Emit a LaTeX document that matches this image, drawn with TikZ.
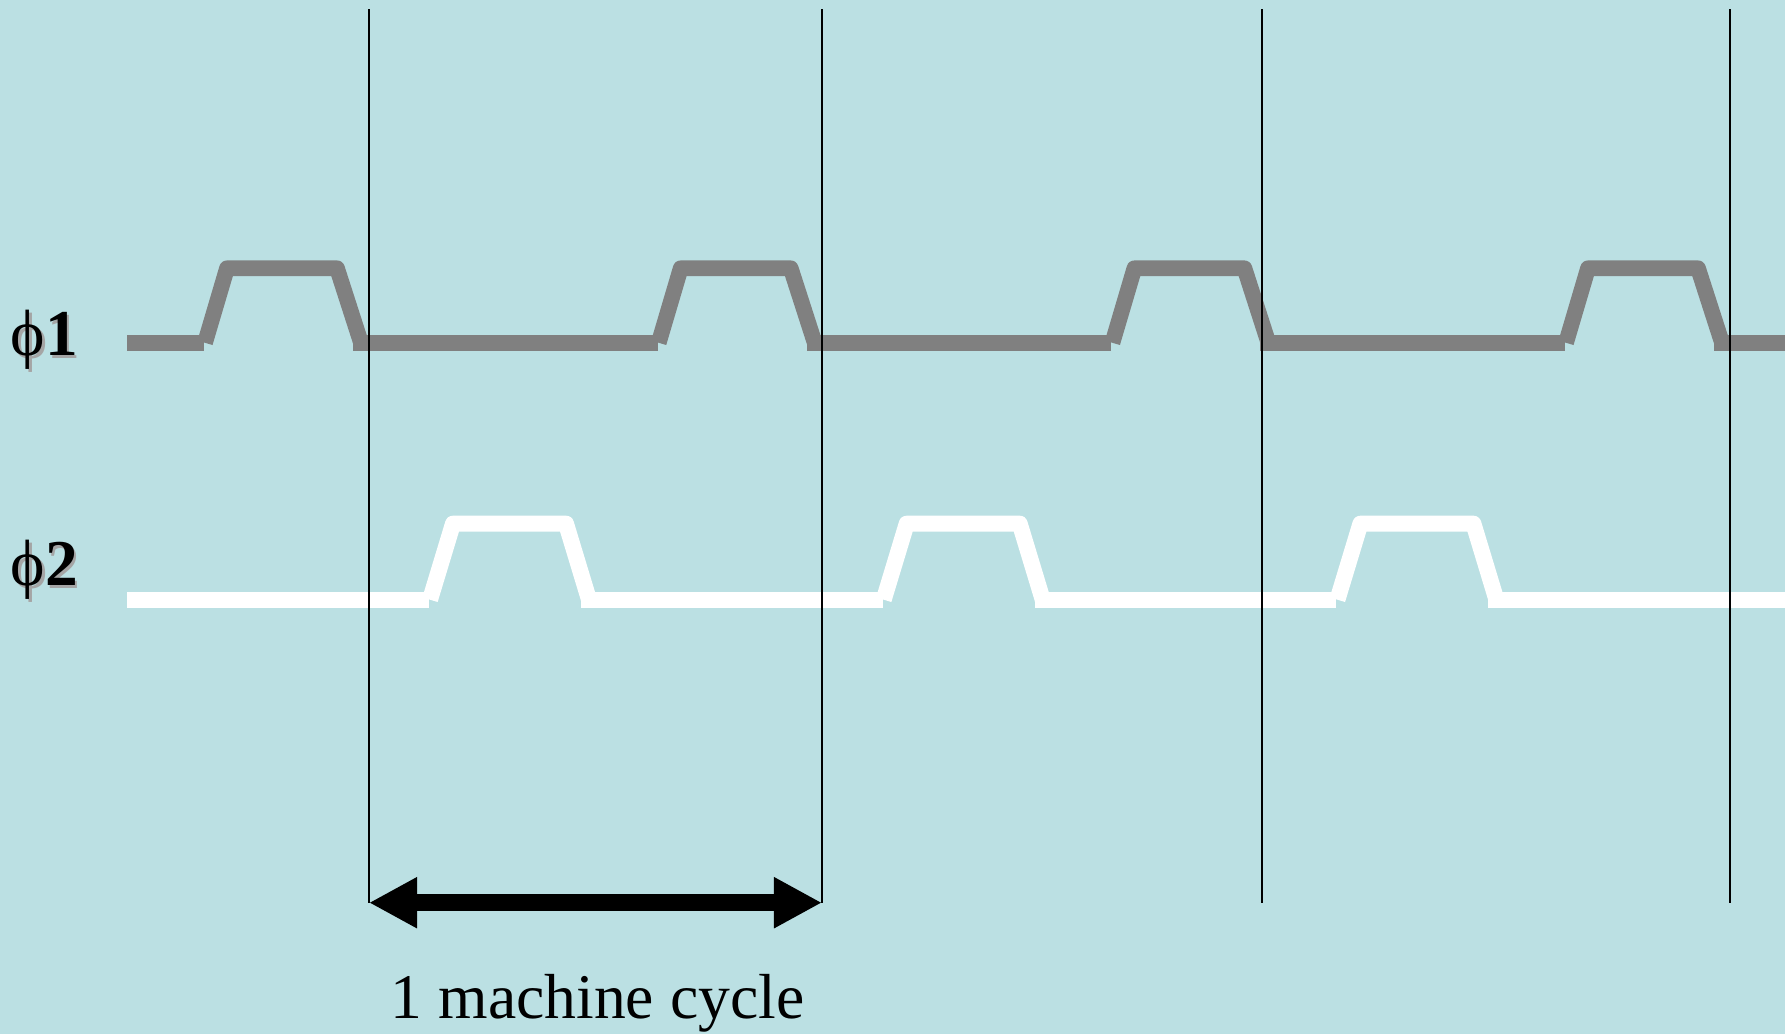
\documentclass[tikz,border=0pt]{standalone}
\usepackage{fontspec}
\setmainfont{Liberation Serif}
\definecolor{clockbg}{RGB}{187, 224, 227}
\definecolor{phigray}{RGB}{128, 128, 128}
\definecolor{shadowgray}{RGB}{165, 165, 165}
\usetikzlibrary{arrows.meta, positioning, calc}
\newcommand{\shadowed}[1]{\rlap{\kern0.25mm\raisebox{-0.25mm}{\color{shadowgray}#1}}#1}

\begin{document}
\begin{tikzpicture}[x=0.01cm, y=-0.01cm,
        sigone/.style={line width=1.57mm, phigray, line join=round},
        sigtwo/.style={line width=1.6mm, white, line join=round},
        cycmark/.style={line width=0.2mm, black},
        cycarr/.style={{Triangle[length=4.8mm, width=4.77mm]}-{Triangle[length=4.8mm, width=4.77mm]}, line width=1.7mm, black},
        philabel/.style={font=\fontsize{18.6}{20}\selectfont\bfseries, anchor=base west, inner sep=0pt}
      ]
        % Background
        \fill[clockbg] (0,0) rectangle (1785,1034);
        \useasboundingbox (0,0) rectangle (1785,1034);
        \clip (0,0) rectangle (1785,1034);

        % Phase 1
        \draw[sigone] (127,342.8) -- (204,342.8);
        \foreach \x in {204, 657.7, 1111.4, 1565}{
          \draw[sigone] (\x+1,342.8) -- (\x+23,268.3) -- (\x+133,268.3) -- (\x+157,342.8);
          \draw[sigone] (\x+149,342.8) -- (\x+453.7,342.8);
        }

        % Phase 2
        \draw[sigtwo] (127,599.7) -- (429,599.7);
        \foreach \x in {429, 882.7, 1336.4}{
          \draw[sigtwo] (\x+1,599.7) -- (\x+24,523.7) -- (\x+137,523.7) -- (\x+160,599.7);
          \draw[sigtwo] (\x+152,599.7) -- (\x+453.7,599.7);
        }

        % Labels
        \node[philabel] (phione) at (10,356) {\shadowed{{\mdseries ϕ}1}};
        \node[philabel] (phitwo) at (10,586) {\shadowed{{\mdseries ϕ}2}};

        % Cycle marks
        \foreach \i/\x in {1/369, 2/822, 3/1261.5, 4/1730}{
          \coordinate (top\i) at (\x,9.3);
          \coordinate (bot\i) at (\x,902.7);
          \draw[cycmark] (top\i) -- (bot\i);
        }

        % Machine cycle
        \draw[cycarr] (bot1) -- (bot2);
        \node[font=\fontsize{18.1}{20}\selectfont, anchor=base, inner sep=0pt] (cycle) at (597.5,1018) {1 machine cycle};
      \end{tikzpicture}
\end{document}
